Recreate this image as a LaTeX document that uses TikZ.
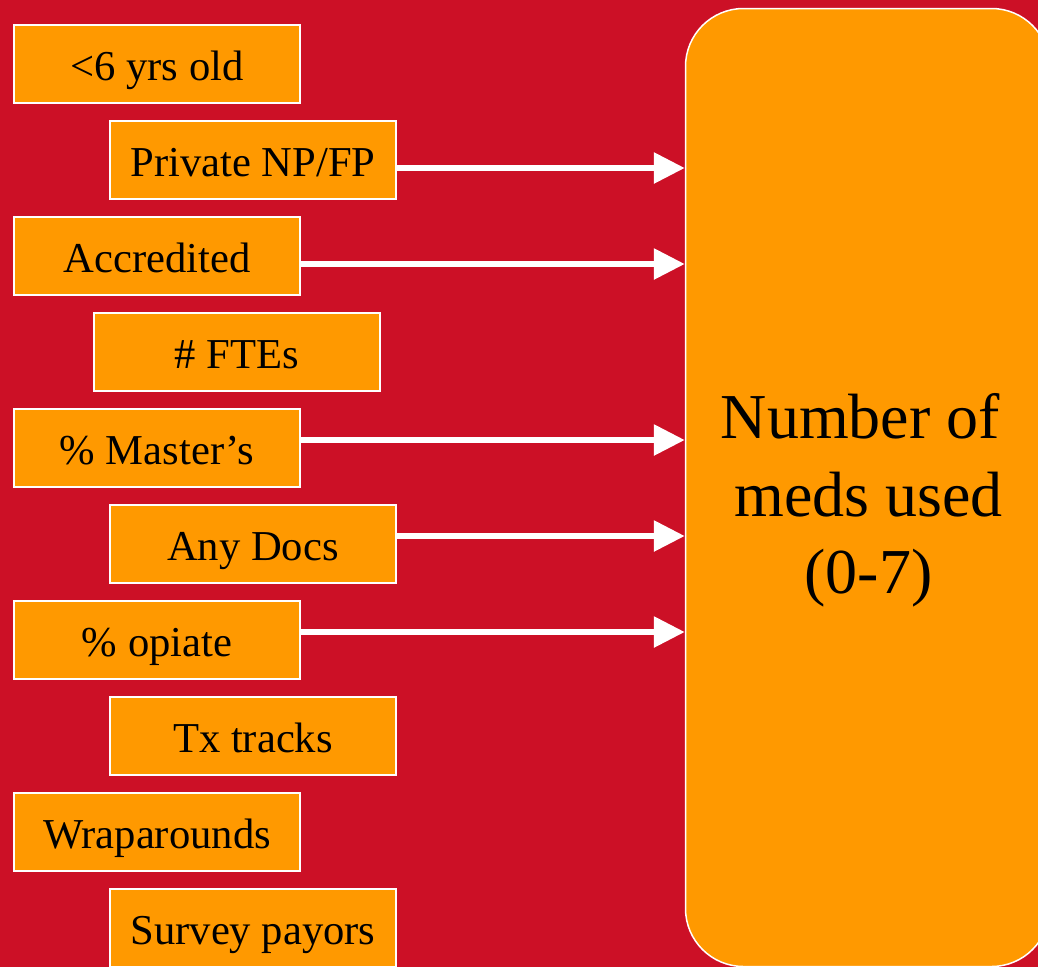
\documentclass[tikz,border=0pt]{standalone}
\usepackage{fontspec}
\setmainfont{Liberation Serif}
\usetikzlibrary{arrows.meta}
\definecolor{bgred}{RGB}{204,16,38}
\definecolor{boxorange}{RGB}{255,153,0}
\tikzset{
  smallbox/.style={draw=white, line width=2pt, fill=boxorange, minimum width=286pt, minimum height=78pt, inner sep=0pt, text height=33.4pt, text depth=0pt, font=\fontsize{42.6}{51}\selectfont, text=black},
  bigbox/.style={draw=white, line width=1.5pt, fill=boxorange, rounded corners=58pt, minimum width=364pt, minimum height=958pt, inner sep=0pt},
  bigtext/.style={align=center, font=\fontsize{64}{77.5}\selectfont, text=black, inner sep=0pt},
  arr/.style={draw=white, line width=6pt, -{Triangle[length=31pt,width=30pt]}}
}
\begin{document}
\begin{tikzpicture}[x=1pt,y=-1pt]
\useasboundingbox (0,0) rectangle (1038,967);
\fill[bgred] (0,0) rectangle (1038,967);
\clip (0,0) rectangle (1038,967);
\node[bigbox] (big) at (867.5,487.5) {};
\node[bigtext] (bigtext) at ([xshift=1pt,yshift=-13pt]big.center) {Number of\kern16pt\\meds used\\(0-7)};
\node[smallbox] (b1) at (157,64) {<6 yrs old};
\node[smallbox] (b2) at (253,160) {Private NP/FP};
\node[smallbox] (b3) at (157,256) {Accredited};
\node[smallbox] (b4) at (237,352) {\# FTEs};
\node[smallbox] (b5) at (157,448) {\% Master’s};
\node[smallbox] (b6) at (253,544) {Any Docs};
\node[smallbox] (b7) at (157,640) {\% opiate};
\node[smallbox] (b8) at (253,736) {Tx tracks};
\node[smallbox] (b9) at (157,832) {Wraparounds};
\node[smallbox] (b10) at (253,928) {Survey payors};
\draw[arr] ([yshift=-8pt]b2.east) -- ([yshift=-8pt]b2.east -| big.west);
\draw[arr] ([yshift=-8pt]b3.east) -- ([yshift=-8pt]b3.east -| big.west);
\draw[arr] ([yshift=8pt]b5.east) -- ([yshift=8pt]b5.east -| big.west);
\draw[arr] ([yshift=8pt]b6.east) -- ([yshift=8pt]b6.east -| big.west);
\draw[arr] ([yshift=8pt]b7.east) -- ([yshift=8pt]b7.east -| big.west);
\end{tikzpicture}
\end{document}
